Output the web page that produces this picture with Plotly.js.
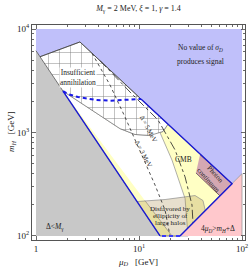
<!DOCTYPE html>
<html><head><meta charset="utf-8">
<script src="https://cdn.plot.ly/plotly-3.0.1.min.js"></script>
<style>html,body{margin:0;padding:0;background:#fff}</style>
</head><body><div id="c" style="width:250px;height:272px"></div>
<script>
// axis ticks
const xTickVals = [1, 10, 100];
const xTickText = ['1', '10<sup>1</sup>', '10<sup>2</sup>'];
const yTickVals = [100, 1000, 10000];
const yTickText = ['10<sup>2</sup>', '10<sup>3</sup>', '10<sup>4</sup>'];
const xMinor = [2,3,4,5,6,7,8,9,20,30,40,50,60,70,80,90];
const yMinor = [200,300,400,500,600,700,800,900,2000,3000,4000,5000,6000,7000,8000,9000];

// regions: mu_D [GeV] vs m_H [GeV]
const grayX = [1, 16.0, 1];
const grayY = [6170, 100, 100];
const blueX = [1, 100, 100, 80, 2.67, 1.094, 1];
const blueY = [10000, 10000, 400, 320, 7500, 5400, 6170];
const pinkX = [25, 100, 100];
const pinkY = [100, 400, 100];
const signalX = [1.83, 16.0, 25, 80, 19.1, 17.1, 12.8, 9.15, 6.54];
const signalY = [2510, 100, 100, 320, 1200, 1023, 936, 957, 1090];
const whiteX = [1.83, 6.54, 9.15, 12.8, 15.3, 20.9, 28.0, 29.9, 20.9, 11.4];
const whiteY = [2510, 1090, 957, 936, 1105, 542, 230, 100, 100, 220];
const haloX = [9.55, 12.8, 17.9, 25.0, 35.0, 41.8, 44, 25, 16.0];
const haloY = [215, 218, 225, 235, 246, 220, 176, 100, 100];
const photonX = [39.1, 80, 61.1, 35.7];
const photonY = [611, 320, 244, 407];
const annihX = [1.094, 2.67, 19.1, 17.1, 12.8, 9.15, 6.54, 1.83];
const annihY = [5400, 7500, 1200, 1023, 936, 957, 1090, 2510];

// blue signal contour
const contourSolidAX = [16.0, 1.83];
const contourSolidAY = [100, 2510];
const contourDashX = [1.83, 2.05, 2.56, 3.74, 5.23, 7.3, 10.45];
const contourDashY = [2510, 2350, 2200, 2070, 2030, 2060, 2110];
const contourSolidBX = [10.45, 80, 25];
const contourSolidBY = [2110, 320, 100];
const contourBottomX = [25, 16.0];
const contourBottomY = [100, 100];

// dark boundary lines
const edgeX = [1, 1.83];
const edgeY = [6170, 2510];
const topEdgeX = [1.094, 2.67, 10.45];
const topEdgeY = [5400, 7500, 2110];

// Delta lines
const d3X = [3.5, 5.23, 7.31, 10.2, 14.3, 17.9, 20.0];
const d3Y = [5830, 2877, 1413, 678, 311, 178, 100];
const d5X = [4.18, 8.18, 15.3, 22.4, 28.0, 32.7, 33.4];
const d5Y = [4950, 2460, 1321, 678, 372, 199, 134];

function poly(x, y, fill, line, extra) {
  return Object.assign({x: x, y: y, mode: 'lines', fill: 'toself', fillcolor: fill,
    line: line || {width: 0}, hoverinfo: 'skip', showlegend: false}, extra || {});
}
function ln(x, y, line) {
  return {x: x, y: y, mode: 'lines', line: line, hoverinfo: 'skip', showlegend: false};
}

const thin = {color: 'rgb(140,140,140)', width: 0.7};
const traces = [
  poly(grayX, grayY, 'rgb(200,200,200)'),
  poly(blueX, blueY, 'rgb(192,192,250)'),
  poly(signalX, signalY, 'rgb(255,255,196)', thin),
  poly(whiteX, whiteY, 'white', thin),
  poly(haloX, haloY, 'rgba(165,135,70,0.27)', thin),
  poly(pinkX, pinkY, 'rgb(255,200,204)', thin),
  poly(photonX, photonY, 'rgb(212,168,178)', {color: 'rgb(90,70,80)', width: 0.8}),
  poly(annihX, annihY, 'white', {color: 'rgb(110,110,110)', width: 0.7},
       {fillpattern: {shape: '+', bgcolor: 'white', fgcolor: 'rgb(120,120,120)', size: 11, solidity: 0.08}}),
  ln(d3X, d3Y, {color: '#222', width: 0.8, dash: 'dot'}),
  ln(d5X, d5Y, {color: '#222', width: 0.8, dash: 'dashdot'}),
  ln(edgeX, edgeY, {color: 'rgb(80,80,80)', width: 0.8}),
  ln(topEdgeX, topEdgeY, {color: 'rgb(60,60,60)', width: 0.8}),
  ln(contourSolidAX, contourSolidAY, {color: 'rgb(25,25,210)', width: 1.4}),
  ln(contourDashX, contourDashY, {color: 'rgb(25,25,230)', width: 2, dash: '4px,3px'}),
  ln(contourSolidBX, contourSolidBY, {color: 'rgb(25,25,210)', width: 1.4}),
  ln(contourBottomX, contourBottomY, {color: 'rgb(60,60,250)', width: 2, dash: '4px,3px'})
];

function ann(text, px, py, size, opts) {
  return Object.assign({text: text, xref: 'paper', yref: 'paper',
    x: (px - 32) / 213, y: (240 - py) / 215, showarrow: false,
    xanchor: 'center', yanchor: 'middle',
    font: {family: 'Liberation Serif, serif', size: size, color: '#222'}}, opts || {});
}

const annotations = [
  ann('No value of <i>σ</i><sub><i>D</i></sub>', 200, 48.5, 7.5),
  ann('produces signal', 200, 61, 7.5),
  ann('Insufficient<br>annihilation', 77.5, 77, 7.5, {bgcolor: 'white', borderpad: 0}),
  ann('CMB', 183, 159, 7.5),
  ann('Photon<br>continuum', 212, 177, 7, {textangle: 48}),
  ann('Disfavored by', 170, 208.5, 7),
  ann('ellipticity of', 170, 215.5, 7),
  ann('large halos', 170, 222.5, 7),
  ann('4<i>μ</i><sub><i>D</i></sub>><i>m</i><sub><i>H</i></sub>+Δ', 218, 229, 7.5),
  ann('Δ<<i>M</i><sub>γ</sub>', 55, 227, 7.5),
  ann('Δ = 5 MeV', 149, 128, 6.5, {textangle: 62}),
  ann('Δ = 3 MeV', 144, 153, 6.5, {textangle: 62}),
  ann('<i>m</i><sub><i>H</i></sub>   [GeV]', 11, 132, 9, {textangle: -90})
];

const axisCommon = {
  type: 'log', ticks: 'inside', ticklen: 4, tickcolor: '#444', tickwidth: 0.8,
  showline: true, linecolor: '#555', linewidth: 1, mirror: 'ticks',
  showgrid: false, zeroline: false, tickmode: 'array', tickfont: {size: 9, color: '#222'}
};

const layout = {
  width: 250, height: 272,
  margin: {l: 32, r: 5, t: 25, b: 32},
  paper_bgcolor: 'white', plot_bgcolor: 'white',
  font: {family: 'Liberation Serif, Times New Roman, serif', size: 9, color: '#222'},
  showlegend: false,
  title: {text: '<i>M</i><sub>γ</sub> = 2 MeV, <i>ξ</i> = 1, <i>γ</i> = 1.4',
          x: 0.5, xref: 'paper', xanchor: 'center', y: 0.969, yref: 'container', yanchor: 'middle',
          font: {size: 8, color: '#222'}},
  xaxis: Object.assign({}, axisCommon, {
    range: [-0.0388, 2.029], tickvals: xTickVals, ticktext: xTickText,
    minor: {ticks: 'inside', ticklen: 2, tickcolor: '#444', tickmode: 'array', tickvals: xMinor, showgrid: false},
    title: {text: '<i>μ</i><sub><i>D</i></sub>   [GeV]', font: {size: 9}, standoff: 5}
  }),
  yaxis: Object.assign({}, axisCommon, {
    range: [1.961, 4.039], tickvals: yTickVals, ticktext: yTickText,
    minor: {ticks: 'inside', ticklen: 2, tickcolor: '#444', tickmode: 'array', tickvals: yMinor, showgrid: false}
  }),
  annotations: annotations
};

Plotly.newPlot('c', traces, layout, {staticPlot: true, displayModeBar: false});
</script>
</body></html>
